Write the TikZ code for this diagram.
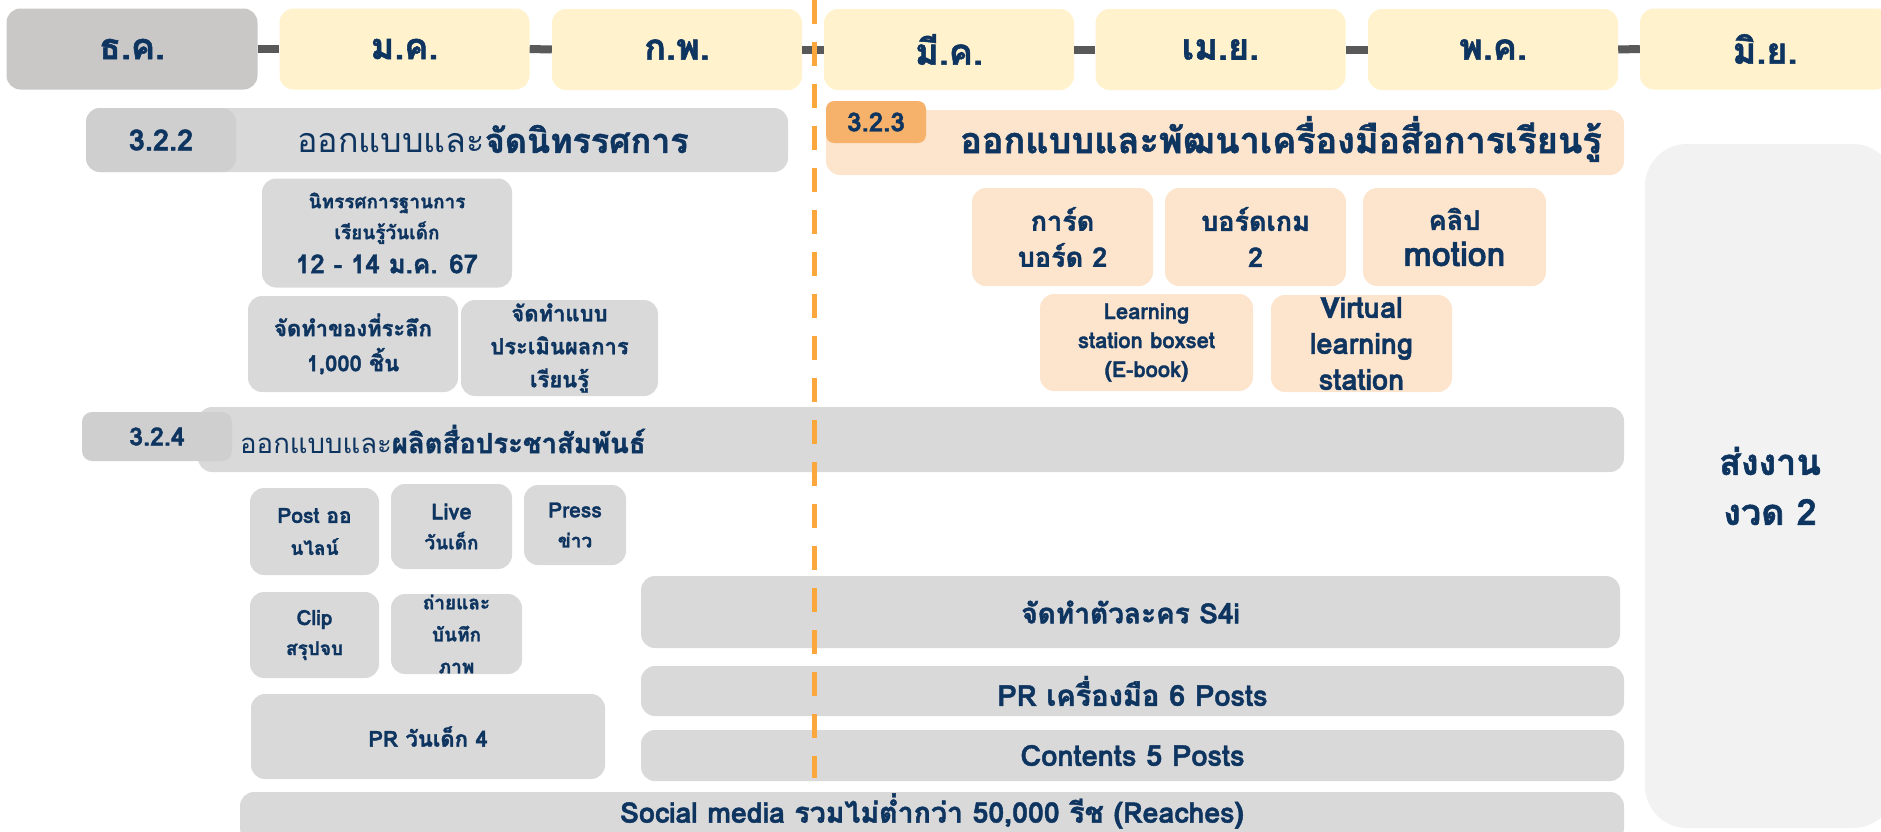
\documentclass[tikz,border=0pt]{standalone}
\usepackage{fontspec}
\setmainfont[Script=Thai, BoldFeatures={FakeBold=1.5}]{Loma}
\definecolor{navy}{HTML}{0E3460}
\definecolor{cream}{HTML}{FFF2CC}
\definecolor{decgrey}{HTML}{C9C8C6}
\definecolor{lgrey}{HTML}{D9D9D9}
\definecolor{tabgrey}{HTML}{CFCFCF}
\definecolor{peach}{HTML}{FCE4CD}
\definecolor{tabor}{HTML}{F6B26B}
\definecolor{dashor}{HTML}{FBA73B}
\definecolor{conngrey}{HTML}{595959}
\definecolor{paleg}{HTML}{F2F2F2}
\newcommand{\fs}[2]{\fontsize{#1}{#2}\selectfont}
\tikzset{
  base/.style={rounded corners=14pt, inner sep=0pt, text=navy, align=center},
  month/.style={base, fill=cream, minimum width=250pt, minimum height=81pt,
    font=\bfseries\fontsize{36}{40}\selectfont},
  gbox/.style={base, fill=lgrey},
  pbox/.style={base, fill=peach},
  conn/.style={draw=conngrey, line width=8pt},
  tlabel/.style={text=navy, inner sep=0pt, align=center},
}
\begin{document}
\begin{tikzpicture}[x=1pt,y=-1pt]
\useasboundingbox (0,0) rectangle (1881,831);
% months
\node[month, fill=decgrey, minimum width=251pt] (dec) at (132,49) {ธ.ค.};
\node[month] (jan) at (404.5,49) {ม.ค.};
\node[month] (feb) at (677,49.5) {ก.พ.};
\node[month] (mar) at (949,49.5) {มี.ค.};
\node[month] (apr) at (1220.5,49.5) {เม.ย.};
\node[month] (may) at (1493,49.5) {พ.ค.};
\node[month, minimum width=250pt] (jun) at (1765,49) {มิ.ย.};
\draw[conn] (dec.east) -- (jan.west);
\draw[conn] (jan.east) -- (feb.west);
\draw[conn] (feb.east) -- (mar.west);
\draw[conn] (mar.east) -- (apr.west);
\draw[conn] (apr.east) -- (may.west);
\draw[conn] (may.east) -- (jun.west);
% right delivery box
\node[base, fill=paleg, rounded corners=42pt, minimum width=250pt, minimum height=684pt,
  font=\bfseries\fontsize{36}{50}\selectfont] (deliver) at (1770,486) {ส่งงาน\\งวด 2};
% 3.2.2
\node[gbox, minimum width=702pt, minimum height=64pt] (s322) at (437,140) {};
\node[base, fill=tabgrey, minimum width=150pt, minimum height=64pt,
  font=\bfseries\fontsize{29}{32}\selectfont] (t322) at (161,140) {3.2.2};
\node[tlabel, font=\fontsize{34}{40}\selectfont] (h322) at (493,139) {ออกแบบและ\textbf{จัดนิทรรศการ}};
\node[gbox, minimum width=250pt, minimum height=109pt, font=\bfseries\fontsize{19}{31}\selectfont] (exhib) at (387,233) {นิทรรศการฐานการ\\เรียนรู้วันเด็ก\\[3pt]\fs{26}{30}12 - 14 ม.ค. 67};
\node[gbox, minimum width=210pt, minimum height=96pt,
  font=\bfseries\fontsize{22}{35}\selectfont] (souv) at (353,344) {จัดทำของที่ระลึก\\1,000 ชิ้น};
\node[gbox, minimum width=197pt, minimum height=96pt,
  font=\bfseries\fontsize{22}{33}\selectfont] (assess) at (559.5,348) {จัดทำแบบ\\ประเมินผลการ\\เรียนรู้};
% 3.2.3
\node[pbox, minimum width=798pt, minimum height=65pt] (s323) at (1225,142.5) {};
\node[base, fill=tabor, rounded corners=8pt, minimum width=100pt, minimum height=42pt,
  font=\bfseries\fontsize{26}{28}\selectfont] (t323) at (876,122) {3.2.3};
\node[tlabel, font=\bfseries\fontsize{36}{40}\selectfont] (h323) at (1281,139) {ออกแบบและพัฒนาเครื่องมือสื่อการเรียนรู้};
\node[pbox, minimum width=181pt, minimum height=98pt,
  font=\bfseries\fontsize{27}{36}\selectfont] (card) at (1062.5,237) {การ์ด\\บอร์ด 2};
\node[pbox, minimum width=181pt, minimum height=98pt,
  font=\bfseries\fontsize{27}{36}\selectfont] (bgame) at (1255.5,237) {บอร์ดเกม\\2};
\node[pbox, minimum width=183pt, minimum height=98pt,
  font=\bfseries\fontsize{27}{36}\selectfont] (motion) at (1454.5,237) {คลิป\\\fs{34}{36}motion};
\node[pbox, minimum width=213pt, minimum height=97pt,
  font=\bfseries\fontsize{22}{29}\selectfont] (lsbox) at (1146.5,342.5) {Learning\\station boxset\\(E-book)};
\node[pbox, minimum width=181pt, minimum height=97pt,
  font=\bfseries\fontsize{29}{36}\selectfont] (virt) at (1361.5,343.5) {Virtual\\learning\\station};
% 3.2.4
\node[gbox, minimum width=1426pt, minimum height=65pt] (s324) at (911,439.5) {};
\node[base, fill=tabgrey, rounded corners=10pt, minimum width=150pt, minimum height=49pt,
  font=\bfseries\fontsize{25}{28}\selectfont] (t324) at (157,436.5) {3.2.4};
\node[tlabel, anchor=west, font=\fontsize{27.5}{32}\selectfont] (h324) at (240,439) {ออกแบบและ\textbf{ผลิตสื่อประชาสัมพันธ์}};
\node[gbox, minimum width=129pt, minimum height=87pt,
  font=\bfseries\fontsize{19}{32}\selectfont] (post) at (314.5,531.5) {\fs{21}{32}Post ออ\\นไลน์};
\node[gbox, minimum width=121pt, minimum height=85pt,
  font=\bfseries\fontsize{19}{30}\selectfont] (live) at (451.5,526.5) {\fs{22}{30}Live\\\fs{19}{30}วันเด็ก};
\node[gbox, minimum width=102pt, minimum height=80pt,
  font=\bfseries\fontsize{19}{30}\selectfont] (press) at (575,525) {\fs{21}{30}Press\\\fs{19}{30}ข่าว};
\node[gbox, minimum width=129pt, minimum height=86pt,
  font=\bfseries\fontsize{19}{30}\selectfont] (clip) at (314.5,635) {\fs{21}{30}Clip\\\fs{19}{30}สรุปจบ};
\node[gbox, minimum width=131pt, minimum height=80pt,
  font=\bfseries\fontsize{19}{32}\selectfont] (photo) at (456.5,634) {ถ่ายและ\\บันทึก\\ภาพ};
\node[gbox, minimum width=354pt, minimum height=85pt,
  font=\bfseries\fontsize{22}{26}\selectfont] (prkids) at (428,736.5) {PR วันเด็ก 4};
\node[gbox, minimum width=979pt, minimum height=72pt,
  font=\bfseries\fontsize{28}{30}\selectfont] (s4i) at (1130.5,612) {จัดทำตัวละคร S4i};
\node[gbox, minimum width=983pt, minimum height=50pt,
  font=\bfseries\fontsize{29}{30}\selectfont] (prtools) at (1132.5,691) {PR เครื่องมือ 6 Posts};
\node[gbox, minimum width=983pt, minimum height=51pt,
  font=\bfseries\fontsize{29}{30}\selectfont] (contents) at (1132.5,755.5) {Contents 5 Posts};
\node[gbox, minimum width=1384pt, minimum height=50pt] (social) at (932,817) {};
\node[tlabel, font=\bfseries\fontsize{28.5}{30}\selectfont] (socialt) at (932,811) {Social media รวมไม่ต่ำกว่า 50,000 รีช (Reaches)};
% dashed divider
\coordinate (dtop) at (814,0);
\coordinate (dbot) at (814,778);
\draw[draw=dashor, line width=5pt, dash pattern=on 24pt off 18pt] (dtop) -- (dbot);
\end{tikzpicture}
\end{document}
